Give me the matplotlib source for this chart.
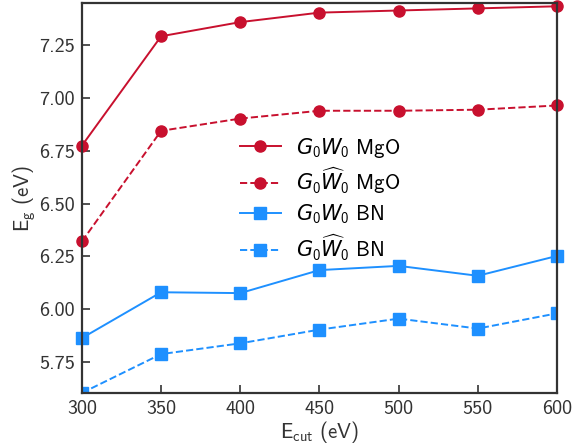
import matplotlib
matplotlib.use('Agg')
import matplotlib.pyplot as plt

plt.rcParams['font.family'] = ['cmss10', 'DejaVu Sans']
plt.rcParams['mathtext.fontset'] = 'custom'
plt.rcParams['mathtext.rm'] = 'cmss10'
plt.rcParams['mathtext.it'] = 'DejaVu Sans:italic'
plt.rcParams['axes.unicode_minus'] = False

ECUT = [300, 350, 400, 450, 500, 550, 600]
MGO_GW = [6.775, 7.293, 7.36, 7.405, 7.415, 7.425, 7.435]
MGO_GWHAT = [6.321, 6.845, 6.903, 6.94, 6.94, 6.945, 6.965]
BN_GW = [5.863, 6.08, 6.076, 6.185, 6.205, 6.158, 6.252]
BN_GWHAT = [5.603, 5.787, 5.838, 5.903, 5.955, 5.908, 5.98]

RED = '#C8102E'
BLUE = '#1E90FF'


def main():
    fig = plt.figure(figsize=(5.73, 4.46), dpi=100)
    ax = fig.add_axes([0.143, 0.119, 0.829, 0.874])

    ax.plot(ECUT, MGO_GW, color=RED, marker='o', ms=8, lw=1.4, clip_on=False,
            label=r'$G_0W_0$ MgO')
    ax.plot(ECUT, MGO_GWHAT, color=RED, marker='o', ms=8, lw=1.4, ls='--', clip_on=False,
            label=r'$G_0\widehat{W}_0$ MgO')
    ax.plot(ECUT, BN_GW, color=BLUE, marker='s', ms=8, lw=1.4, clip_on=False,
            label=r'$G_0W_0$ BN')
    ax.plot(ECUT, BN_GWHAT, color=BLUE, marker='s', ms=8, lw=1.4, ls='--', clip_on=True,
            label=r'$G_0\widehat{W}_0$ BN')

    ax.set_xlim(300, 600)
    ax.set_ylim(5.603, 7.45)
    ax.set_xticks(ECUT)
    ax.set_yticks([5.75, 6.00, 6.25, 6.50, 6.75, 7.00, 7.25])
    ax.set_yticklabels(['5.75', '6.00', '6.25', '6.50', '6.75', '7.00', '7.25'])
    ax.set_xlabel(r'E$_\mathrm{cut}$ (eV)', fontsize=15, labelpad=1, color='#333333')
    ax.set_ylabel(r'E$_\mathrm{g}$ (eV)', fontsize=15, labelpad=1, color='#333333')
    ax.tick_params(direction='in', length=6, width=1.2, labelsize=14.5, colors='#333333',
                   pad=5, top=False, right=False)
    for s in ax.spines.values():
        s.set_linewidth(1.6)
        s.set_color('#333333')

    ax.legend(loc='center left', bbox_to_anchor=(0.332, 0.497), frameon=False,
              fontsize=15, handlelength=2.0, handletextpad=0.7, labelspacing=0.3,
              borderaxespad=0, borderpad=0)

    fig.savefig('out.png', dpi=100)


if __name__ == '__main__':
    main()
